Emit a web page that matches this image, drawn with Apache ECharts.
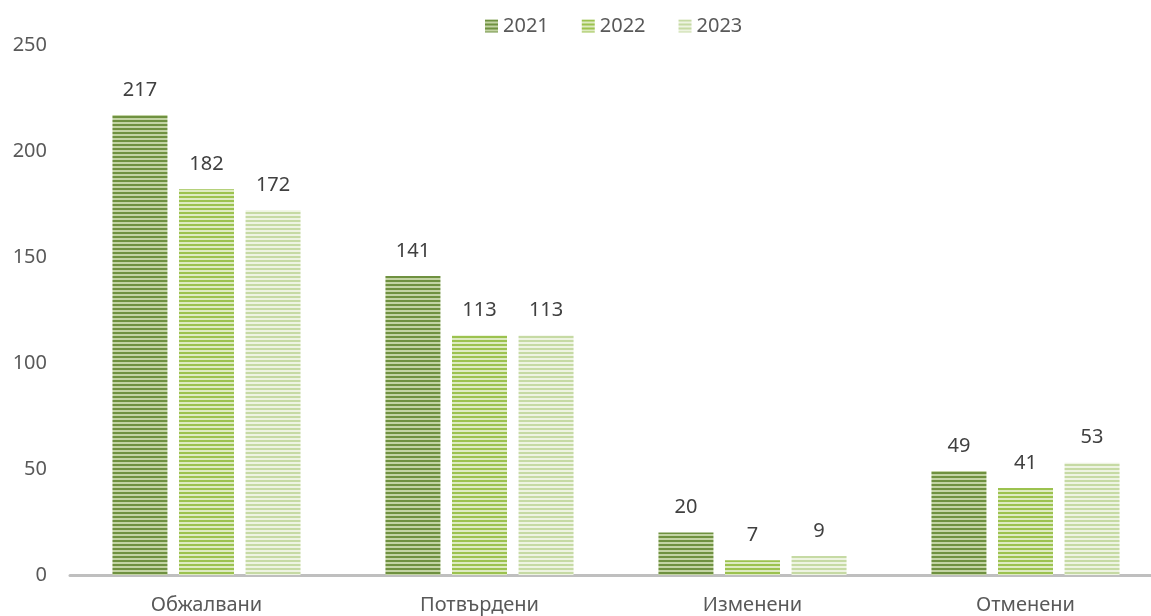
<!DOCTYPE html>
<html>
<head>
<meta charset="utf-8">
<script src="https://cdn.jsdelivr.net/npm/echarts@6/dist/echarts.min.js"></script>
<style>
  html, body { margin: 0; padding: 0; background: #fff; }
  #chart { width: 1151px; height: 616px; }
</style>
</head>
<body>
<div id="chart"></div>
<script>
const categories = ['Обжалвани', 'Потвърдени', 'Изменени', 'Отменени'];
const years = ['2021', '2022', '2023'];
const values2021 = [217, 141, 20, 49];
const values2022 = [182, 113, 7, 41];
const values2023 = [172, 113, 9, 53];
const yTicks = [0, 50, 100, 150, 200, 250];

// striped fill, like the horizontal line pattern of the original
function stripes(dark, light) {
  const c = document.createElement('canvas');
  c.width = 4;
  c.height = 4;
  const ctx = c.getContext('2d');
  ctx.fillStyle = light;
  ctx.fillRect(0, 0, 4, 4);
  ctx.fillStyle = dark;
  ctx.fillRect(0, 0, 4, 2);
  return { image: c, repeat: 'repeat' };
}

const fills = [
  stripes('#6f9140', '#c3d4a4'),
  stripes('#9cc24f', '#deebc2'),
  stripes('#c6daa4', '#eef4e2')
];

const font = 'Noto Sans';
const chart = echarts.init(document.getElementById('chart'));

const seriesData = [values2021, values2022, values2023];

chart.setOption({
  animation: false,
  textStyle: { fontFamily: font },
  legend: {
    data: years,
    top: 11,
    left: 480,
    itemWidth: 13,
    itemHeight: 13,
    itemGap: 33,
    icon: 'rect',
    textStyle: { fontSize: 20, color: '#595959', fontFamily: font }
  },
  grid: { left: 70, top: 45, bottom: 41, width: 1092, outerBoundsMode: 'none' },
  xAxis: {
    type: 'category',
    data: categories,
    axisLine: { lineStyle: { color: '#bfbfbf', width: 3 } },
    axisTick: { show: false },
    axisLabel: { fontSize: 20, color: '#595959', margin: 20, fontFamily: font }
  },
  yAxis: {
    type: 'value',
    min: yTicks[0],
    max: yTicks[yTicks.length - 1],
    interval: 50,
    splitLine: { show: false },
    axisLine: { show: false },
    axisTick: { show: false },
    axisLabel: { fontSize: 20, color: '#595959', margin: 23, fontFamily: font }
  },
  series: years.map((y, i) => ({
    name: y,
    type: 'bar',
    data: seriesData[i],
    barWidth: 55,
    barGap: '21%',
    itemStyle: { color: fills[i] },
    label: {
      show: true,
      position: 'top',
      distance: 15,
      fontSize: 20,
      color: '#404040',
      fontFamily: font
    }
  }))
});
</script>
</body>
</html>
